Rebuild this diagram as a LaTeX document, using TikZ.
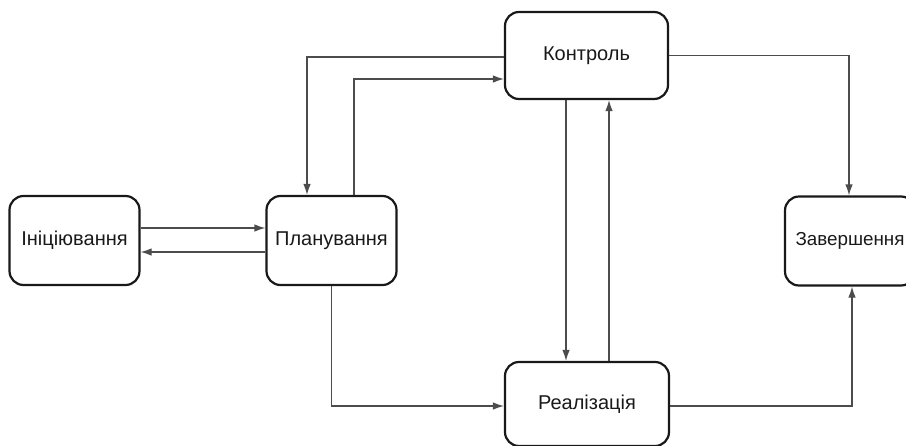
\documentclass[tikz,border=0pt]{standalone}
\usepackage{fontspec}
\setmainfont{Liberation Sans}
\usetikzlibrary{arrows.meta}

\begin{document}
\begin{tikzpicture}[x=1pt,y=1pt,yscale=-1,xscale=1,
  stage/.style={draw=black!90,line width=2.2pt,rounded corners=14pt,inner sep=0pt,
    minimum width=130pt,minimum height=89pt,font=\fontsize{20}{24}\selectfont,text=black!90},
  conn/.style={draw=black!70,line width=1.2pt,-{Latex[length=11pt,width=7.5pt]}}]
\useasboundingbox (0,0) rectangle (906,445);
%Rounded Rect
\node [stage] (init) at (74.5,240.5) {Ініціювання};
%Rounded Rect
\node [stage] (plan) at (331.5,240.5) {Планування};
%Rounded Rect
\node [stage,minimum width=163pt,minimum height=87pt] (ctrl) at (586.5,55.5) {Контроль};
%Rounded Rect
\node [stage,minimum width=164pt,minimum height=84pt] (impl) at (587,404) {Реалізація};
%Rounded Rect
\node [stage,font=\fontsize{18.8}{24}\selectfont] (fin) at (850,241) {Завершення};
%Straight Lines
\draw [conn] ([yshift=-12.5pt]init.east) -- ([yshift=-12.5pt]plan.west);
\draw [conn] ([yshift=11.5pt]plan.west) -- ([yshift=11.5pt]init.east);
%Straight Lines
\draw [conn] ([yshift=1.5pt]ctrl.west) -| ([xshift=-24.5pt]plan.north);
\draw [conn] ([xshift=22.5pt]plan.north) |- ([yshift=23.5pt]ctrl.west);
%Straight Lines
\draw [conn] ([xshift=-20.5pt]ctrl.south) -- ([xshift=-21pt]impl.north);
\draw [conn] ([xshift=22pt]impl.north) -- ([xshift=22.5pt]ctrl.south);
%Straight Lines
\draw [conn] (plan.south) |- ([yshift=2pt]impl.west);
\draw [conn] (ctrl.east) -| ([xshift=-1pt]fin.north);
\draw [conn] ([yshift=2pt]impl.east) -| ([xshift=2pt]fin.south);
\end{tikzpicture}
\end{document}
